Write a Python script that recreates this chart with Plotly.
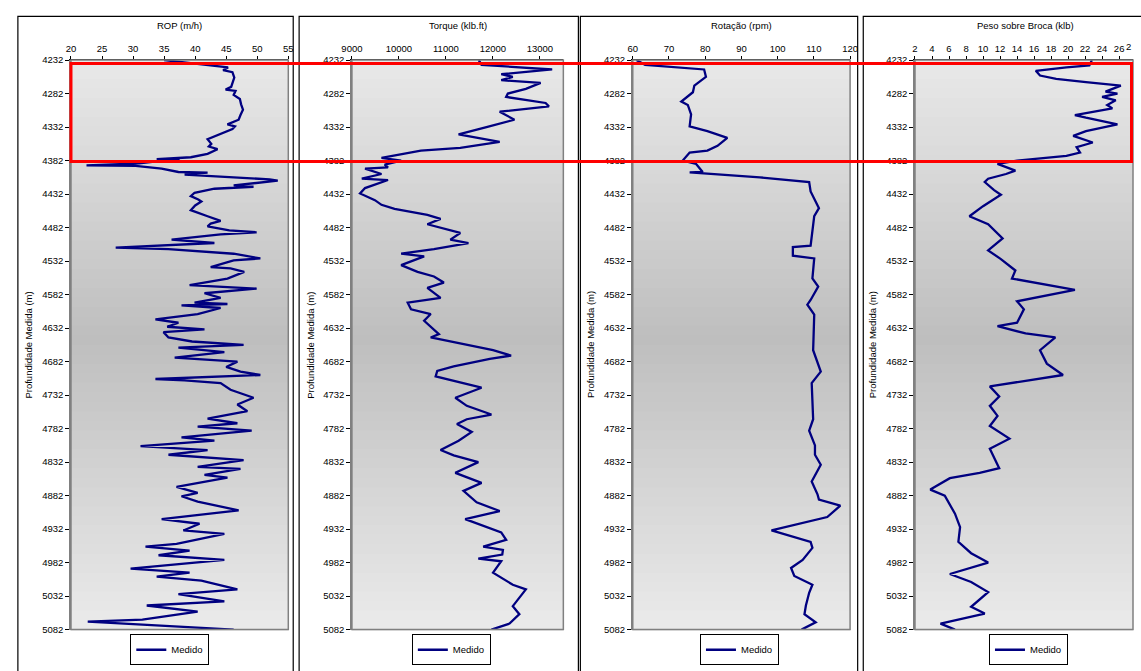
import plotly.graph_objects as go

W, H = 1141, 671

# ---------------- data ----------------
rop_depth = [4232, 4239, 4243, 4247, 4250, 4258, 4266, 4272, 4276, 4278, 4284, 4290, 4298, 4306, 4314,
             4321, 4328, 4331, 4335, 4343, 4350, 4357, 4361, 4365, 4372, 4377, 4380, 4381, 4383, 4386,
             4389, 4390, 4394, 4399, 4400, 4403, 4406, 4410, 4412, 4416, 4419, 4421, 4424, 4430, 4435,
             4440, 4443, 4449, 4456, 4465, 4472, 4476, 4480, 4486, 4489, 4492, 4500, 4505, 4512, 4514,
             4518, 4521, 4528, 4531, 4541, 4543, 4548, 4558, 4568, 4573, 4580, 4587, 4594, 4596, 4598,
             4602, 4611, 4619, 4624, 4630, 4634, 4638, 4646, 4652, 4657, 4661, 4668, 4676, 4682, 4690,
             4697, 4702, 4708, 4710, 4714, 4724, 4736, 4746, 4756, 4767, 4774, 4779, 4785, 4795, 4800,
             4808, 4814, 4821, 4829, 4839, 4842, 4851, 4855, 4869, 4878, 4883, 4891, 4904, 4917, 4924,
             4934, 4939, 4954, 4958, 4964, 4971, 4978, 4991, 4997, 5003, 5009, 5022, 5029, 5040, 5046,
             5055, 5067, 5070, 5082]
rop_value = [35.0, 41.4, 45.3, 44.5, 46.0, 46.3, 46.0, 45.8, 44.9, 46.5, 46.2, 47.2, 47.4, 47.7, 47.3,
             47.0, 45.2, 46.4, 46.0, 44.0, 42.0, 42.6, 42.2, 43.6, 42.0, 39.3, 33.8, 37.5, 33.8, 31.0,
             22.5, 30.4, 34.6, 37.3, 42.0, 38.3, 44.7, 52.0, 53.3, 49.0, 46.2, 49.4, 43.1, 39.9, 39.3,
             40.5, 41.0, 40.0, 39.3, 42.0, 44.1, 42.5, 42.0, 45.5, 49.9, 44.1, 36.2, 43.1, 27.2, 35.7,
             42.0, 46.2, 50.5, 46.2, 42.5, 45.7, 47.9, 45.2, 39.1, 49.9, 41.5, 44.1, 39.9, 45.2, 37.8,
             44.1, 40.4, 33.6, 37.3, 35.5, 41.5, 34.9, 35.7, 39.5, 47.8, 37.3, 44.7, 36.7, 46.8, 45.0,
             47.3, 50.5, 33.6, 38.3, 44.1, 45.7, 49.4, 46.8, 48.4, 42.0, 46.8, 40.4, 49.1, 37.8, 43.1,
             31.2, 42.0, 35.7, 47.8, 40.4, 47.3, 41.5, 45.2, 37.0, 40.4, 37.8, 40.4, 47.0, 34.6, 40.7,
             38.1, 44.7, 37.0, 32.0, 39.1, 34.1, 44.7, 29.6, 39.1, 33.8, 41.0, 46.8, 37.3, 44.7, 32.2,
             40.4, 31.5, 22.7, 46.2]

torque_depth = [4232, 4239, 4246, 4253, 4257, 4262, 4266, 4275, 4282, 4287, 4296, 4301, 4309, 4321, 4332,
                4343, 4354, 4363, 4367, 4375, 4378, 4382, 4388, 4392, 4394, 4402, 4409, 4411, 4423, 4431,
                4441, 4448, 4454, 4463, 4469, 4477, 4487, 4490, 4500, 4505, 4514, 4521, 4525, 4538, 4548,
                4555, 4564, 4572, 4587, 4594, 4604, 4611, 4621, 4641, 4646, 4652, 4665, 4673, 4678, 4689,
                4696, 4704, 4712, 4721, 4736, 4748, 4761, 4768, 4775, 4787, 4800, 4814, 4822, 4832, 4848,
                4863, 4875, 4892, 4905, 4917, 4937, 4948, 4958, 4963, 4970, 4976, 4980, 4997, 5015, 5022,
                5047, 5059, 5073, 5082]
torque_value = [11700, 11759, 13262, 12178, 12424, 12178, 13017, 12702, 12319, 12283, 13122, 13193, 12145,
                12459, 11864, 11270, 12145, 11306, 10468, 9908, 9629, 10048, 9698, 9768, 9279, 9629, 9210,
                9768, 9279, 9174, 9489, 9629, 9908, 10606, 10887, 10606, 11166, 11306, 11096, 11480, 10746,
                10048, 10537, 10048, 10397, 10746, 10956, 10606, 10887, 10187, 10258, 10677, 10537, 10851,
                10677, 11096, 12004, 12388, 11935, 11166, 10816, 10782, 11236, 11759, 11201, 11445, 11969,
                11445, 11236, 11550, 11271, 10887, 11166, 11690, 11201, 11759, 11375, 11654, 12145, 11411,
                12178, 12283, 11794, 12214, 12200, 11690, 12178, 12004, 12424, 12702, 12424, 12564, 12354,
                11969]

rpm_depth = [4232, 4239, 4246, 4257, 4270, 4280, 4294, 4299, 4313, 4331, 4338, 4348, 4360, 4367, 4370,
             4382, 4387, 4399, 4399.5, 4407, 4414, 4428, 4453, 4465, 4509, 4511, 4524, 4528, 4558, 4570,
             4590, 4597, 4612, 4665, 4697, 4714, 4768, 4785, 4807, 4821, 4836, 4861, 4880, 4888, 4897,
             4914, 4934, 4951, 4960, 4978, 4990, 5002, 5015, 5027, 5046, 5059, 5071, 5082]
rpm_value = [61.0, 63.4, 79.7, 80.2, 77.0, 76.6, 73.4, 75.2, 76.1, 75.7, 80.6, 86.1, 83.4, 80.6, 75.7,
             73.8, 77.5, 79.3, 75.7, 95.1, 108.7, 109.1, 111.4, 110.1, 109.1, 104.2, 104.2, 110.1, 109.6,
             111.2, 109.1, 108.2, 110.1, 109.8, 111.9, 109.4, 109.8, 108.7, 110.3, 110.3, 111.9, 109.4,
             111.0, 111.4, 117.3, 113.7, 98.3, 109.1, 109.6, 106.9, 103.7, 104.6, 109.6, 108.7, 107.8,
             107.4, 110.5, 106.6]

wob_depth = [4232, 4240, 4243, 4248, 4255, 4260, 4265, 4270, 4279, 4282, 4287, 4292, 4299, 4304, 4314,
             4318, 4328, 4338, 4345, 4355, 4362, 4370, 4375, 4382, 4387, 4397, 4402, 4409, 4414, 4426,
             4433, 4450, 4465, 4477, 4498, 4516, 4529, 4546, 4558, 4575, 4592, 4604, 4624, 4629, 4640,
             4646, 4665, 4685, 4702, 4719, 4734, 4748, 4763, 4778, 4797, 4812, 4841, 4848, 4856, 4873,
             4882, 4895, 4909, 4929, 4951, 4968, 4982, 4999, 5011, 5026, 5048, 5058, 5073, 5082]
wob_value = [22.8, 22.5, 19.8, 16.2, 16.7, 18.6, 22.1, 26.2, 24.4, 25.8, 24.0, 25.6, 24.6, 25.2, 20.8,
             22.1, 25.8, 22.1, 20.6, 22.9, 21.0, 21.4, 19.8, 14.0, 11.7, 13.8, 12.7, 10.6, 10.2, 11.3,
             12.1, 10.0, 8.4, 10.6, 12.3, 10.6, 12.1, 13.8, 13.4, 20.8, 14.0, 14.8, 14.0, 11.7, 15.0,
             18.5, 16.7, 17.5, 19.4, 10.8, 11.9, 10.8, 11.7, 10.8, 13.1, 10.8, 11.9, 9.6, 6.1, 3.8,
             5.5, 6.1, 6.7, 7.3, 7.1, 8.6, 10.6, 6.1, 8.6, 10.6, 8.6, 10.2, 5.0, 6.7]

titles = ["ROP (m/h)", "Torque (klb.ft)", "Rotação (rpm)", "Peso sobre Broca (klb)"]
y_title = "Profundidade Medida (m)"
series_name = "Medido"
depth_ticks = list(range(4232, 5083, 50))
x_ticks = [list(range(20, 56, 5)), list(range(9000, 13001, 1000)), list(range(60, 121, 10)),
           list(range(2, 27, 2))]
x_ranges = [[20, 55], [9000, 13500], [60, 120], [2, 27.63]]
edge_label = "2"   # first glyph of the "28" tick that the picture edge cuts
highlight_depth = [4237, 4383.5]

# ---------------- layout geometry (pixels) ----------------
plot_x = [(61, 282), (346.7, 561.7), (632.3, 853.3), (919.3, 1141)]
plot_top, plot_bot = 55, 634
frames = [(7, 287), (293, 577), (579, 861), (866.7, 1160)]
ytitle_x = [18, 305, 590, 876]
legend_cx = [161.5, 447.8, 740.8, 1034.7]

FONT = "Liberation Sans, Arial, sans-serif"
NAVY = "#000080"


def px(x):
    return x / W


def py(y):
    return 1 - y / H


fig = go.Figure()
datasets = [(rop_value, rop_depth), (torque_value, torque_depth), (rpm_value, rpm_depth),
            (wob_value, wob_depth)]
layout = dict()
shapes = []
annotations = []

for i, (vals, deps) in enumerate(datasets):
    n = "" if i == 0 else str(i + 1)
    xa, ya = "x" + n, "y" + n
    lg = "legend" + n
    fig.add_trace(go.Scatter(x=vals, y=deps, xaxis=xa, yaxis=ya, mode="lines",
                             line=dict(color=NAVY, width=2.3), name=series_name,
                             legend=lg, showlegend=True, hoverinfo="x+y"))
    layout["xaxis" + n] = dict(domain=[px(plot_x[i][0]), px(plot_x[i][1])], range=x_ranges[i],
                               side="top", anchor=ya, tickvals=x_ticks[i],
                               ticktext=[str(v) for v in x_ticks[i]], ticks="outside",
                               ticklen=3, tickcolor="black", showline=True, linecolor="black",
                               linewidth=1, showgrid=False, zeroline=False,
                               tickfont=dict(family=FONT, size=9.5, color="black"))
    layout["yaxis" + n] = dict(domain=[py(plot_bot), py(plot_top)], range=[5082, 4232],
                               anchor=xa, tickvals=depth_ticks,
                               ticktext=[str(v) for v in depth_ticks], ticks="outside", ticklen=4,
                               tickcolor="black", showline=True, linecolor="#808080",
                               linewidth=1.5, showgrid=False, zeroline=False,
                               tickfont=dict(family=FONT, size=9.5, color="black"))
    layout[lg] = dict(x=px(legend_cx[i]), xanchor="center", y=py(654.5), yanchor="middle",
                      bgcolor="white", bordercolor="black", borderwidth=1, itemwidth=30,
                      font=dict(family=FONT, size=9.5, color="black"),
                      tracegroupgap=0)
    # gradient background of the plot area
    nb = 60
    for b in range(nb):
        t = (b + 0.5) / nb
        if t < 0.49:
            g = 233 - 43 * (t / 0.49)
        else:
            g = 190 + 45 * ((t - 0.49) / 0.51)
        g = int(round(g))
        shapes.append(dict(type="rect", xref=xa + " domain", yref=ya + " domain",
                           x0=0, x1=1, y0=1 - b / nb, y1=1 - (b + 1) / nb - 0.002,
                           fillcolor=f"rgb({g},{g},{g})", line=dict(width=0), layer="below"))
    # plot area border (right / bottom gray)
    shapes.append(dict(type="rect", xref=xa + " domain", yref=ya + " domain", x0=0, x1=1, y0=0, y1=1,
                       line=dict(color="#808080", width=1.5), fillcolor="rgba(0,0,0,0)",
                       layer="above"))
    # chart frame
    shapes.append(dict(type="rect", xref="paper", yref="paper", x0=px(frames[i][0]),
                       x1=px(frames[i][1]), y0=-0.2, y1=py(10.5),
                       line=dict(color="black", width=1.2), fillcolor="rgba(0,0,0,0)"))
    # titles
    cx = (plot_x[i][0] + plot_x[i][1]) / 2 if i < 3 else (plot_x[i][0] + 1145) / 2
    annotations.append(dict(text=titles[i], xref="paper", yref="paper", x=px(cx),
                            y=py(20), xanchor="center", yanchor="middle", showarrow=False,
                            font=dict(family=FONT, size=9.5, color="black")))
    annotations.append(dict(text=y_title, xref="paper", yref="paper", x=px(ytitle_x[i]),
                            y=py((plot_top + plot_bot) / 2), textangle=-90, xanchor="center",
                            yanchor="middle", showarrow=False,
                            font=dict(family=FONT, size=9.5, color="black")))

# glyph of the last tick label at the right picture edge
annotations.append(dict(text=edge_label, xref="paper", yref="paper", x=px(1140.5),
                        y=py(41), xanchor="right", yanchor="middle", showarrow=False,
                        font=dict(family=FONT, size=9.5, color="black")))

# red highlight rectangle across all tracks
shapes.append(dict(type="rect", xref="paper", yref="y", x0=px(61), x1=px(1139.5),
                   y0=highlight_depth[0], y1=highlight_depth[1],
                   line=dict(color="#ff0000", width=3), fillcolor="rgba(0,0,0,0)", layer="above"))

fig.update_layout(**layout)
fig.update_layout(width=W, height=H, margin=dict(l=0, r=0, t=0, b=0), paper_bgcolor="white",
                  plot_bgcolor="rgba(0,0,0,0)", shapes=shapes, annotations=annotations,
                  font=dict(family=FONT, size=9.5, color="black"))

fig.write_html("out.html")
